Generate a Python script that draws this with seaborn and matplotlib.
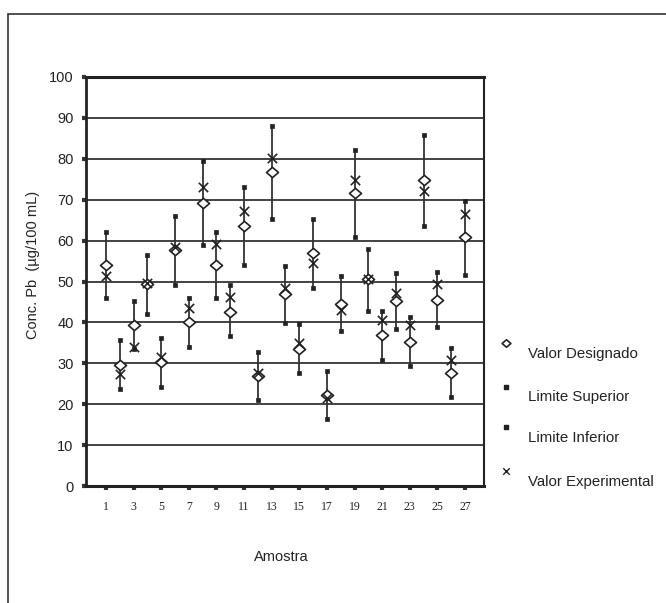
import matplotlib
matplotlib.use("Agg")
import matplotlib.pyplot as plt
from matplotlib.patches import Rectangle
from matplotlib.path import Path
import numpy as np
import pandas as pd
import seaborn as sns

amostra = list(range(1, 28))
valor_designado = [54.0, 29.5, 39.3, 49.4, 30.4, 57.7, 40.2, 69.1, 54.1, 42.6,
                   63.6, 26.8, 76.7, 46.9, 33.6, 56.9, 22.2, 44.6, 71.6, 50.5,
                   36.8, 45.2, 35.2, 74.8, 45.4, 27.6, 60.9]
limite_superior = [62.0, 35.7, 45.2, 56.6, 36.3, 66.1, 46.0, 79.5, 62.2, 49.1,
                   73.1, 32.8, 88.1, 53.7, 39.7, 65.2, 28.2, 51.3, 82.2, 58.0,
                   42.7, 52.1, 41.3, 85.9, 52.4, 33.7, 69.6]
limite_inferior = [46.0, 23.8, 33.6, 42.1, 24.3, 49.1, 34.1, 58.9, 46.0, 36.6,
                   54.1, 21.0, 65.2, 39.9, 27.6, 48.3, 16.3, 38.0, 60.8, 42.9,
                   30.7, 38.5, 29.3, 63.6, 38.8, 21.8, 51.5]
valor_experimental = [51.3, 27.3, 34.0, 49.6, 31.6, 58.5, 43.4, 73.1, 59.1, 46.2,
                      67.2, 27.7, 80.3, 48.5, 35.0, 54.6, 21.6, 43.0, 74.8, 50.6,
                      40.7, 47.2, 39.3, 72.2, 49.3, 30.7, 66.6]
y_ticks = list(range(0, 101, 10))
x_ticks = list(range(1, 28, 2))

df = pd.DataFrame({"Amostra": amostra, "VD": valor_designado, "LS": limite_superior,
                   "LI": limite_inferior, "VE": valor_experimental})

sns.set_theme(style="white")
plt.rcParams["font.family"] = ["Liberation Sans", "DejaVu Sans"]

W, H = 666, 603
fig = plt.figure(figsize=(W / 100, H / 100), dpi=100)
ax = fig.add_axes([86 / W, 1 - 486 / H, (484 - 86) / W, (486 - 77) / H])

dark = "#222222"
diamond = Path([(-1, 0), (0, 0.85), (1, 0), (0, -0.85), (-1, 0)],
               [Path.MOVETO, Path.LINETO, Path.LINETO, Path.LINETO, Path.CLOSEPOLY])

for yv in y_ticks[1:]:
    ax.axhline(yv, color=dark, lw=1.2, zorder=1)

ax.vlines(df["Amostra"], df["LI"], df["LS"], color="#333333", lw=1.3, zorder=2)
sns.scatterplot(data=df, x="Amostra", y="LS", marker="s", s=12, color="#222222",
                edgecolor="#222222", linewidth=0.5, ax=ax, zorder=3)
sns.scatterplot(data=df, x="Amostra", y="LI", marker="s", s=12, color="#222222",
                edgecolor="#222222", linewidth=0.5, ax=ax, zorder=3)
sns.scatterplot(data=df, x="Amostra", y="VD", marker=diamond, s=75, facecolor="white",
                edgecolor="#222222", linewidth=1.2, ax=ax, zorder=4)
sns.scatterplot(data=df, x="Amostra", y="VE", marker="x", s=45, color="#222222",
                linewidth=1.2, ax=ax, zorder=5)

ax.set_xlim(-0.45, 28.38)
ax.set_ylim(0, 100)
ax.set_yticks(y_ticks)
ax.set_yticklabels([str(v) for v in y_ticks], fontsize=10.5, color="#222222")
ax.set_xticks(x_ticks)
ax.set_xticklabels([str(v) for v in x_ticks], fontsize=8.5, family="Liberation Serif",
                   color="#222222")
ax.tick_params(axis="both", which="both", length=3, width=3, color="#333333",
               direction="out", bottom=True, left=True)
ax.tick_params(axis="y", pad=6)
ax.tick_params(axis="x", pad=8)
ax.set_xlabel("")
ax.set_ylabel("")
for side, lw in [("left", 2.0), ("bottom", 2.2), ("top", 2.2), ("right", 1.5)]:
    ax.spines[side].set_visible(True)
    ax.spines[side].set_color(dark)
    ax.spines[side].set_linewidth(lw)

fig.text(33 / W, 1 - 265 / H, "Conc. Pb  (µg/100 mL)", rotation=90,
         ha="center", va="center", fontsize=10.5, color="#222222")
fig.text(281 / W, 1 - 557 / H, "Amostra", ha="center", va="center",
         fontsize=10.5, color="#222222")

# legend
lax = fig.add_axes([0, 0, 1, 1], facecolor="none")
lax.set_xlim(0, W)
lax.set_ylim(H, 0)
lax.axis("off")
leg_items = [
    ("Valor Designado", 343, 354, dict(marker=diamond, s=40, facecolor="white", edgecolor="#222222", linewidth=1.2)),
    ("Limite Superior", 387, 397, dict(marker="s", s=10, color="#222222")),
    ("Limite Inferior", 427, 438, dict(marker="s", s=10, color="#222222")),
    ("Valor Experimental", 471, 482, dict(marker="x", s=22, color="#222222", linewidth=1.0)),
]
for label, my, ty, kw in leg_items:
    lax.scatter([506], [my], **kw)
    lax.text(528, ty, label, ha="left", va="center", fontsize=10.8, color="#222222")

# outer frame
frame = Rectangle((8 / W, -0.1), 1.2, (1 - 14 / H) + 0.1, transform=fig.transFigure,
                  fill=False, edgecolor="#333333", linewidth=1.2)
fig.patches.append(frame)

fig.savefig("out.png", dpi=100)
